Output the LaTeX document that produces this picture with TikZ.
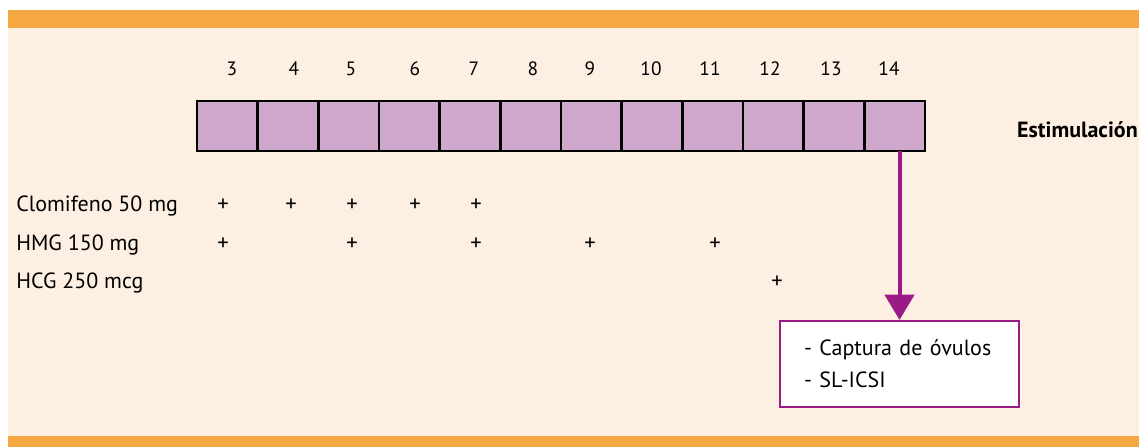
\documentclass[tikz,border=0pt]{standalone}
\usepackage{fontspec}
\setmainfont{PT Sans}
\usetikzlibrary{positioning,arrows.meta}
\definecolor{bandorange}{HTML}{F5A742}
\definecolor{panelcream}{HTML}{FDF0E2}
\definecolor{cellmauve}{HTML}{D0A8CE}
\definecolor{arrowpurple}{HTML}{9A1A86}

\begin{document}
\begin{tikzpicture}[x=0.75pt,y=-0.75pt]
    % Define block styles
    \tikzstyle{cell} = [rectangle, draw=black, fill=cellmauve, line width=1.8pt,
        minimum width=45.5pt, minimum height=37.5pt, inner sep=0pt, outer sep=0pt]
    \tikzstyle{daynum} = [anchor=base, font=\fontsize{14.5}{16}\selectfont, inner sep=0pt]
    \tikzstyle{drug} = [anchor=base west, font=\fontsize{16.5}{19}\selectfont, inner sep=0pt]
    \tikzstyle{dose} = [anchor=base, font=\fontsize{17}{19}\selectfont, inner sep=0pt]
    \tikzstyle{result} = [rectangle, draw=arrowpurple, fill=white, line width=1.6pt,
        minimum width=179pt, minimum height=64.5pt, inner xsep=18pt, text width=143pt,
        align=left, font=\fontsize{16.5}{24}\selectfont]
    \tikzstyle{line} = [draw=arrowpurple, line width=3pt,
        -{Triangle[width=22pt,length=19pt]}] % Arrow with direction

    % Background bands
    \useasboundingbox (0,0) rectangle (1139,447);
    \fill[panelcream] (8,28) rectangle (1139,436);
    \fill[bandorange] (8,10) rectangle (1139,28);
    \fill[bandorange] (8,436) rectangle (1139,447);

    % Place nodes
    \foreach \d in {3,...,14}
        \node [cell] (c\d) at ({227.3+(\d-3)*60.67},126) {};
    \foreach \d/\x in {3/232,4/294,5/351,6/415,7/474,8/533,9/590,10/651,11/710,12/770,13/831,14/889}
        \node [daynum] (n\d) at (\x,75) {\d};
    \node [anchor=base east, inner sep=0pt, font=\fontsize{16.5}{19}\selectfont\bfseries] (stim) at (1138,137) {Estimulación};

    \node [drug] (clomi) at (16,211) {Clomifeno 50 mg};
    \node [drug] (hmg) at (16,250) {HMG 150 mg};
    \node [drug] (hcg) at (16,288) {HCG 250 mcg};

    \foreach \x [count=\i] in {223,291,352,415,476}
        \node [dose] (clomi\i) at (\x,211) {+};
    \foreach \x [count=\i] in {223,352,476,590,715}
        \node [dose] (hmg\i) at (\x,250) {+};
    \node [dose] (hcg1) at (777,288) {+};

    \node [result] (capture) at (899.5,364) {- Captura de óvulos\\- SL-ICSI};

    % Draw arrows
    \path [line] (c14.south -| capture.north) -- (capture.north);
\end{tikzpicture}
\end{document}
